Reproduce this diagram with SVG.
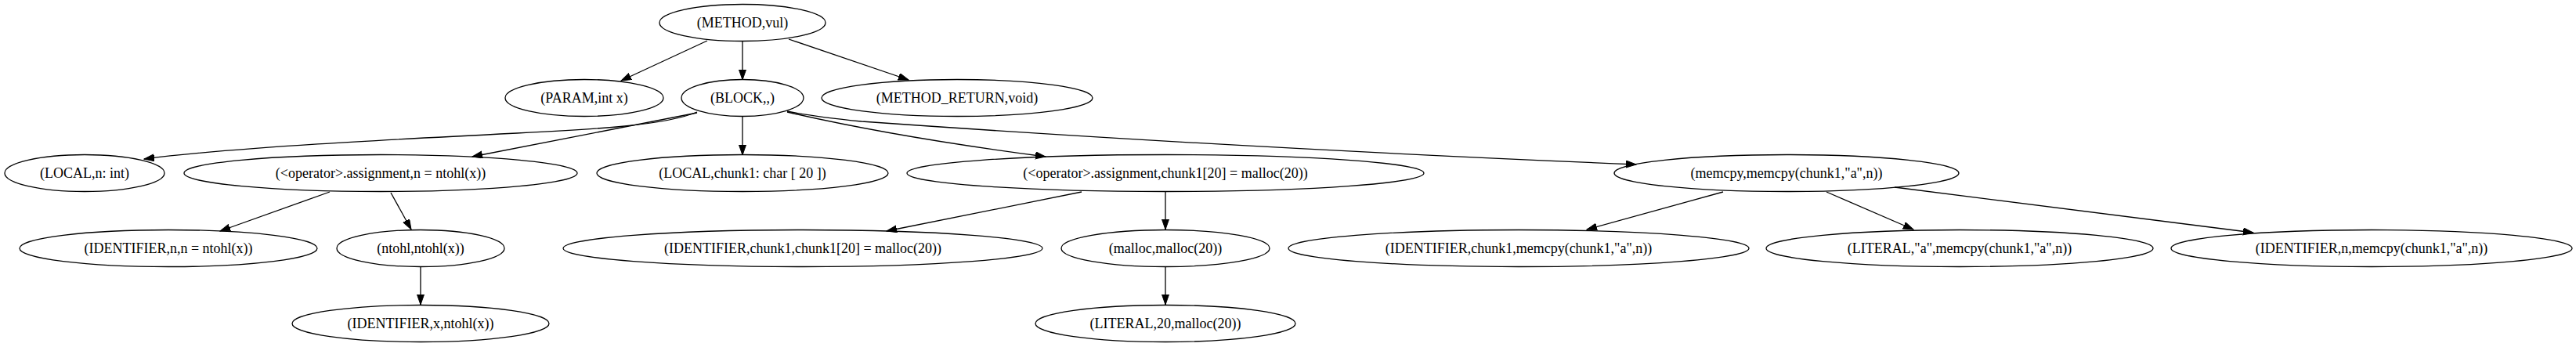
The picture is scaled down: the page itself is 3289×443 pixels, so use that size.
<svg xmlns="http://www.w3.org/2000/svg" width="3289" height="443" viewBox="0 0 3289 443">
<style>
.n ellipse{fill:none;stroke:#000;stroke-width:1.3}
.n text{font-family:"Liberation Serif","Times New Roman",serif;font-size:18px;text-anchor:middle;fill:#000}
#edges path{fill:none;stroke:#000;stroke-width:1.3;marker-end:url(#ah)}
</style>
<defs>
<marker id="ah" markerUnits="userSpaceOnUse" markerWidth="14" markerHeight="10" refX="13" refY="4.5" orient="auto">
<path d="M0,0 L13,4.5 L0,9 z" fill="#000" stroke="#000" stroke-width="1"/>
</marker>
</defs>
<rect width="3289" height="443" fill="#fff"/>
<g id="edges">
<path d="M903,52 L793,103"/>
<path d="M948,53 L948,102"/>
<path d="M1007,50 L1160,102"/>
<path d="M890,143 C850,160 760,165 660,170 C500,178 300,188 184,203"/>
<path d="M890,144 L603,200"/>
<path d="M948,149 L948,198"/>
<path d="M1005,143 C1100,165 1220,185 1335,200"/>
<path d="M1005,142 C1040,149 1070,152 1100,155 C1450,180 1800,198 2089,210"/>
<path d="M421,245 L281,295"/>
<path d="M499,246 L525,293"/>
<path d="M537,340 L537,389"/>
<path d="M1381,245 L1132,295"/>
<path d="M1488,245 L1488,293"/>
<path d="M1488,341 L1488,389"/>
<path d="M2200,245 L2026,293"/>
<path d="M2332,245 L2443,293"/>
<path d="M2419,239 L2877,297"/>
</g>
<g id="n1" class="n"><ellipse cx="948" cy="29" rx="106" ry="23.5"/><text x="948" y="35">(METHOD,vul)</text></g>
<g id="n2" class="n"><ellipse cx="746" cy="125" rx="101" ry="23.5"/><text x="746" y="131">(PARAM,int x)</text></g>
<g id="n3" class="n"><ellipse cx="948" cy="125" rx="78" ry="23.5"/><text x="948" y="131">(BLOCK,,)</text></g>
<g id="n4" class="n"><ellipse cx="1222" cy="125" rx="173" ry="23.5"/><text x="1222" y="131">(METHOD_RETURN,void)</text></g>
<g id="n5" class="n"><ellipse cx="108" cy="221" rx="102" ry="23.5"/><text x="108" y="227">(LOCAL,n: int)</text></g>
<g id="n6" class="n"><ellipse cx="486" cy="221" rx="251" ry="23.5"/><text x="486" y="227">(&lt;operator&gt;.assignment,n = ntohl(x))</text></g>
<g id="n7" class="n"><ellipse cx="948" cy="221" rx="186" ry="23.5"/><text x="948" y="227">(LOCAL,chunk1: char [ 20 ])</text></g>
<g id="n8" class="n"><ellipse cx="1488" cy="221" rx="330" ry="23.5"/><text x="1488" y="227">(&lt;operator&gt;.assignment,chunk1[20] = malloc(20))</text></g>
<g id="n9" class="n"><ellipse cx="2281" cy="221" rx="220" ry="23.5"/><text x="2281" y="227">(memcpy,memcpy(chunk1,"a",n))</text></g>
<g id="n10" class="n"><ellipse cx="215" cy="317" rx="190" ry="23.5"/><text x="215" y="323">(IDENTIFIER,n,n = ntohl(x))</text></g>
<g id="n11" class="n"><ellipse cx="537" cy="317" rx="107" ry="23.5"/><text x="537" y="323">(ntohl,ntohl(x))</text></g>
<g id="n12" class="n"><ellipse cx="1025" cy="317" rx="306" ry="23.5"/><text x="1025" y="323">(IDENTIFIER,chunk1,chunk1[20] = malloc(20))</text></g>
<g id="n13" class="n"><ellipse cx="1488" cy="317" rx="133" ry="23.5"/><text x="1488" y="323">(malloc,malloc(20))</text></g>
<g id="n14" class="n"><ellipse cx="1939" cy="317" rx="294" ry="23.5"/><text x="1939" y="323">(IDENTIFIER,chunk1,memcpy(chunk1,"a",n))</text></g>
<g id="n15" class="n"><ellipse cx="2502" cy="317" rx="247" ry="23.5"/><text x="2502" y="323">(LITERAL,"a",memcpy(chunk1,"a",n))</text></g>
<g id="n16" class="n"><ellipse cx="3028" cy="317" rx="256" ry="23.5"/><text x="3028" y="323">(IDENTIFIER,n,memcpy(chunk1,"a",n))</text></g>
<g id="n17" class="n"><ellipse cx="537" cy="413" rx="164" ry="23.5"/><text x="537" y="419">(IDENTIFIER,x,ntohl(x))</text></g>
<g id="n18" class="n"><ellipse cx="1488" cy="413" rx="166" ry="23.5"/><text x="1488" y="419">(LITERAL,20,malloc(20))</text></g>
</svg>
